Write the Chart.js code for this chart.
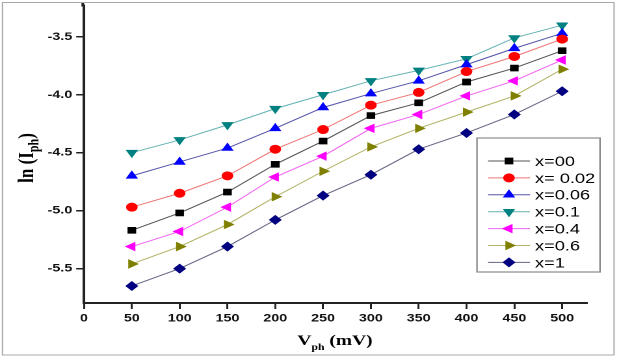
<!DOCTYPE html>
<html>
<head>
<meta charset="utf-8">
<script src="https://cdn.jsdelivr.net/npm/chart.js@4/dist/chart.umd.min.js"></script>
<style>
  html, body { margin: 0; padding: 0; background: #fff; overflow: hidden; }
  /* the source figure is stretched sideways, so draw narrow and stretch */
  #wrap { width: 476px; height: 358px; transform: scaleX(1.3004); transform-origin: 0 0; }
</style>
</head>
<body>
<div id="wrap"><canvas id="iph-chart" width="476" height="358"></canvas></div>
<script>
const voltages = [50, 100, 150, 200, 250, 300, 350, 400, 450, 500];
const xTicks = [0, 50, 100, 150, 200, 250, 300, 350, 400, 450, 500];
const yTicks = [-5.5, -5.0, -4.5, -4.0, -3.5];
const seriesNames = ['x=00', 'x= 0.02', 'x=0.06', 'x=0.1', 'x=0.4', 'x=0.6', 'x=1'];

const x00 = [-5.17, -5.02, -4.84, -4.60, -4.40, -4.18, -4.07, -3.89, -3.77, -3.62];
const x002 = [-4.97, -4.85, -4.70, -4.47, -4.30, -4.09, -3.98, -3.80, -3.67, -3.52];
const x006 = [-4.70, -4.58, -4.46, -4.29, -4.11, -3.99, -3.88, -3.74, -3.60, -3.47];
const x01 = [-4.50, -4.39, -4.26, -4.12, -4.00, -3.88, -3.79, -3.69, -3.51, -3.40];
const x04 = [-5.31, -5.18, -4.97, -4.71, -4.53, -4.29, -4.17, -4.01, -3.88, -3.70];
const x06 = [-5.46, -5.31, -5.12, -4.88, -4.66, -4.45, -4.29, -4.15, -4.01, -3.78];
const x1 = [-5.65, -5.50, -5.31, -5.08, -4.87, -4.69, -4.47, -4.33, -4.17, -3.97];

const allSeries = [x00, x002, x006, x01, x04, x06, x1];

const markColors = ['#000000', '#ff0000', '#0000ff', '#008080', '#ff00ff', '#808000', '#000080'];
const lineColors = ['rgba(40,40,40,0.8)', 'rgba(230,60,60,0.7)', 'rgba(30,30,140,0.75)',
    'rgba(0,128,128,0.6)', 'rgba(230,0,230,0.6)', 'rgba(128,128,0,0.6)', 'rgba(50,50,90,0.75)'];
const shapes = ['rect', 'circle', 'triangle', 'triangle', 'triangle', 'triangle', 'rectRot'];
const turns = [0, 0, 0, 180, -90, 90, 0];
const sizes = [4, 4, 4.5, 4.5, 4.5, 4.5, 4.3];

const datasets = allSeries.map((vals, i) => ({
    label: seriesNames[i],
    data: vals.map((v, j) => ({ x: voltages[j], y: v })),
    borderColor: lineColors[i],
    borderWidth: 1,
    backgroundColor: markColors[i],
    pointBorderColor: markColors[i],
    pointBackgroundColor: markColors[i],
    pointStyle: shapes[i],
    rotation: turns[i],
    pointRadius: sizes[i],
    pointBorderWidth: 1,
    tension: 0,
}));

const decor = {
    id: 'decor',
    afterDraw(chart) {
        const ctx = chart.ctx;
        ctx.save();

        // outer frame
        ctx.strokeStyle = '#a8a8a8';
        ctx.lineWidth = 1;
        ctx.strokeRect(1.9, 2.5, 470.3, 352.5);

        // axis line up to the frame
        ctx.strokeStyle = '#222';
        ctx.lineWidth = 2;
        ctx.beginPath();
        ctx.moveTo(chart.chartArea.left - 1, 3);
        ctx.lineTo(chart.chartArea.left - 1, chart.chartArea.top + 1);
        ctx.stroke();

        // x title  V_ph (mV)
        ctx.fillStyle = '#000';
        ctx.textBaseline = 'alphabetic';
        ctx.textAlign = 'left';
        const big = 'bold 15px "Liberation Serif"';
        const small = 'bold 9px "Liberation Serif"';
        ctx.font = big;
        const wV = ctx.measureText('V').width;
        const wRest = ctx.measureText(' (mV)').width;
        ctx.font = small;
        const wSub = ctx.measureText('ph').width;
        let sx = 257.6 - (wV + wSub + wRest) / 2;
        ctx.font = big;
        ctx.fillText('V', sx, 345);
        ctx.font = small;
        ctx.fillText('ph', sx + wV, 350);
        ctx.font = big;
        ctx.fillText(' (mV)', sx + wV + wSub, 345);

        // y title  ln (I_ph)
        ctx.translate(20.5, 158);
        ctx.rotate(-Math.PI / 2);
        const yBig = 'bold 17px "Liberation Serif"';
        const ySmall = 'bold 12px "Liberation Serif"';
        ctx.font = yBig;
        const wA = ctx.measureText('ln (I').width;
        const wC = ctx.measureText(')').width;
        ctx.font = ySmall;
        const wB = ctx.measureText('ph').width;
        sx = -(wA + wB + wC) / 2;
        ctx.font = yBig;
        ctx.fillText('ln (I', sx, 5);
        ctx.font = ySmall;
        ctx.fillText('ph', sx + wA, 9);
        ctx.font = yBig;
        ctx.fillText(')', sx + wA + wB, 5);
        ctx.restore();

        // legend box
        ctx.save();
        ctx.fillStyle = '#fff';
        ctx.fillRect(366.8, 138, 94.6, 134);
        ctx.strokeStyle = '#8c8c8c';
        ctx.lineWidth = 1.2;
        ctx.strokeRect(366.8, 138, 94.6, 134);
        ctx.font = '14px "Liberation Sans"';
        ctx.textBaseline = 'middle';
        seriesNames.forEach((name, i) => {
            const y = 161 + i * 16.9;
            ctx.strokeStyle = lineColors[i];
            ctx.lineWidth = 1;
            ctx.beginPath();
            ctx.moveTo(375.3, y);
            ctx.lineTo(407.6, y);
            ctx.stroke();
            ctx.fillStyle = markColors[i];
            ctx.strokeStyle = markColors[i];
            Chart.helpers.drawPoint(ctx, {
                pointStyle: shapes[i], rotation: turns[i], radius: sizes[i], borderWidth: 1
            }, 391.4, y);
            ctx.fillStyle = '#000';
            ctx.fillText(name, 411.4, y + 1);
        });
        ctx.restore();
    }
};

new Chart(document.getElementById('iph-chart'), {
    type: 'line',
    data: { datasets },
    options: {
        responsive: false,
        devicePixelRatio: 2,
        animation: false,
        layout: { padding: { left: 0, top: 0, right: 24.6, bottom: 0 } },
        plugins: { legend: { display: false }, tooltip: { enabled: false } },
        scales: {
            x: {
                type: 'linear',
                min: 0,
                max: 526,
                afterFit(scale) {
                    scale.height = 55;
                    scale.paddingLeft = 0;
                    scale.paddingRight = 0;
                },
                afterBuildTicks(scale) { scale.ticks = xTicks.map((v) => ({ value: v })); },
                grid: { drawOnChartArea: false, drawTicks: true, tickLength: 6, color: '#222', lineWidth: 1.5 },
                border: { color: '#222', width: 2 },
                ticks: {
                    color: '#111',
                    padding: 3,
                    maxRotation: 0,
                    font: { family: 'Liberation Sans', size: 11, weight: 'bold' },
                    callback: (v) => String(v),
                },
            },
            y: {
                type: 'linear',
                min: -5.797,
                max: -3.23,
                afterFit(scale) {
                    scale.width = 64.6;
                    scale.paddingTop = 0;
                    scale.paddingBottom = 0;
                },
                afterBuildTicks(scale) { scale.ticks = yTicks.map((v) => ({ value: v })); },
                grid: { drawOnChartArea: false, drawTicks: true, tickLength: 6, color: '#222', lineWidth: 1.5 },
                border: { color: '#222', width: 2 },
                ticks: {
                    color: '#111',
                    padding: 3,
                    font: { family: 'Liberation Sans', size: 11, weight: 'bold' },
                    callback: (v) => Number(v).toFixed(1),
                },
            },
        },
    },
    plugins: [decor],
});
</script>
</body>
</html>
